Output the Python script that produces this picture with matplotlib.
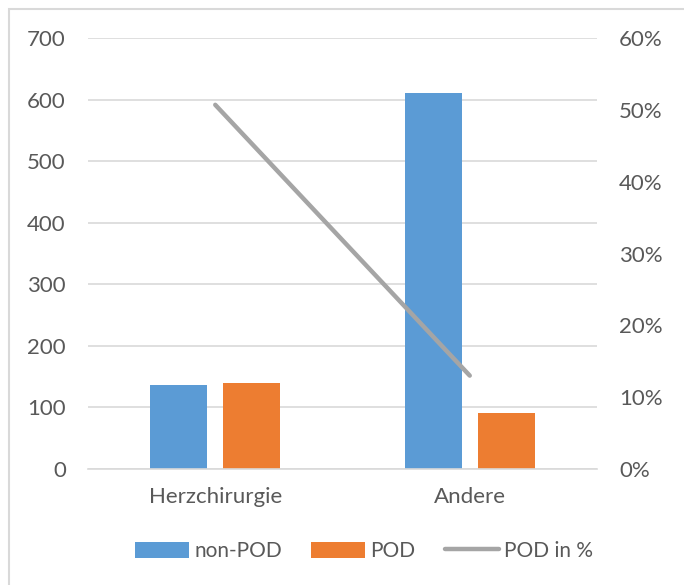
import numpy as np
import matplotlib.pyplot as plt
from matplotlib.patches import Rectangle
from matplotlib.ticker import FuncFormatter

categories = ["Herzchirurgie", "Andere"]
non_pod = [136, 611]
pod = [140, 91]
pod_pct = [50.7, 13.0]

plt.rcParams['font.family'] = ['Lato', 'DejaVu Sans']
txt = '#595959'

fig = plt.figure(figsize=(6.84, 5.85), dpi=100)
fig.patches.append(Rectangle((9/684, -0.1), 1.2, 1 - 9/585 + 0.1, transform=fig.transFigure,
                             fill=False, edgecolor='#D9D9D9', linewidth=1.5))

ax = fig.add_axes([88/684, 1 - 469/585, (597 - 88)/684, (469 - 38)/585])
x = np.arange(len(categories))
w = 0.224
off = 0.143
ax.bar(x - off, non_pod, w, color='#5B9BD5', label='non-POD', zorder=2)
ax.bar(x + off, pod, w, color='#ED7D31', label='POD', zorder=2)
ax.set_xlim(-0.5, 1.5)
ax.set_ylim(0, 700)
ax.set_yticks(range(0, 701, 100))
ax.yaxis.grid(True, color='#D9D9D9', linewidth=1.2, zorder=0)
ax.set_axisbelow(True)
ax.set_xticks(x)
ax.set_xticklabels(categories)
for s in ax.spines.values():
    s.set_visible(False)
ax.spines['bottom'].set_visible(True)
ax.spines['bottom'].set_color('#D9D9D9')
ax.spines['bottom'].set_linewidth(1.2)
ax.tick_params(length=0, labelsize=16, colors=txt, pad=16)
ax.tick_params(axis='x', pad=13)

ax2 = ax.twinx()
ax2.plot(x, pod_pct, color='#A5A5A5', linewidth=3.2, solid_capstyle='round', label='POD in %')
ax2.set_ylim(0, 60)
ax2.set_yticks(range(0, 61, 10))
ax2.yaxis.set_major_formatter(FuncFormatter(lambda v, p: f"{int(v)}%"))
for s in ax2.spines.values():
    s.set_visible(False)
ax2.tick_params(length=0, labelsize=16, colors=txt, pad=16)

h1, l1 = ax.get_legend_handles_labels()
h2, l2 = ax2.get_legend_handles_labels()
fig.legend(h1 + h2, l1 + l2, loc='center', bbox_to_anchor=(364/684, 1 - 551/585), ncol=3,
           frameon=False, fontsize=15, labelcolor=txt, handlelength=2.6, handleheight=0.8,
           handletextpad=0.25, columnspacing=1.4)

fig.savefig('out.png', dpi=100)
